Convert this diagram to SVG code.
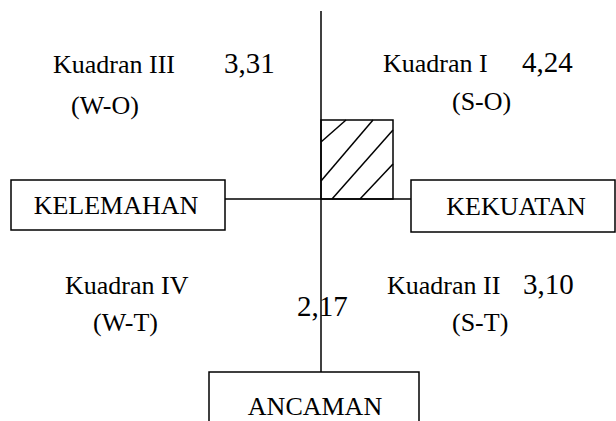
<svg xmlns="http://www.w3.org/2000/svg" width="616" height="421" viewBox="0 0 616 421" font-family="'Liberation Serif', 'Times New Roman', 'DejaVu Serif', serif">
  <style>
    .box { fill: #ffffff; stroke: #000000; stroke-width: 1.5; }
    .axis { stroke: #000000; stroke-width: 1.5; fill: none; }
    .hatch { stroke: #000000; stroke-width: 1.5; fill: none; }
    text { font-family: 'Liberation Serif', 'Times New Roman', 'DejaVu Serif', serif; fill: #000000; }
    .lbl { font-size: 26px; }
    .num { font-size: 29px; }
    .mid { text-anchor: middle; }
  </style>

  <!-- axes -->
  <g id="connectors">
    <line class="axis" x1="321" y1="11" x2="321" y2="372"/>
    <line class="axis" x1="225" y1="199" x2="411" y2="199"/>
  </g>

  <!-- hatched position square in quadrant I -->
  <g id="position">
    <rect class="hatch" x="321" y="120" width="72" height="79"/>
    <line class="hatch" x1="321" y1="142" x2="346" y2="120"/>
    <line class="hatch" x1="321" y1="181" x2="373" y2="120"/>
    <line class="hatch" x1="332" y1="199" x2="393" y2="130"/>
    <line class="hatch" x1="360" y1="199" x2="393" y2="164"/>
  </g>

  <g id="kelemahan">
    <rect class="box" x="11" y="180" width="214" height="50"/>
    <text class="lbl mid" x="116" y="214">KELEMAHAN</text>
  </g>

  <g id="kekuatan">
    <rect class="box" x="411" y="180" width="204" height="52"/>
    <text class="lbl mid" x="516" y="215">KEKUATAN</text>
  </g>

  <g id="ancaman">
    <path class="box" d="M209,425 V372 H419 V425"/>
    <text class="lbl mid" x="315" y="415">ANCAMAN</text>
  </g>

  <g id="kuadran-3">
    <text class="lbl" x="53" y="73">Kuadran III</text>
    <text class="lbl" x="71" y="114">(W-O)</text>
    <text class="num" x="224" y="73">3,31</text>
  </g>

  <g id="kuadran-1">
    <text class="lbl" x="383" y="72">Kuadran I</text>
    <text class="lbl" x="452" y="110">(S-O)</text>
    <text class="num" x="522" y="72">4,24</text>
  </g>

  <g id="kuadran-4">
    <text class="lbl" x="65" y="294">Kuadran IV</text>
    <text class="lbl" x="93" y="331">(W-T)</text>
    <text class="num" x="297" y="316">2,17</text>
  </g>

  <g id="kuadran-2">
    <text class="lbl" x="387" y="294">Kuadran II</text>
    <text class="lbl" x="452" y="331">(S-T)</text>
    <text class="num" x="523" y="294">3,10</text>
  </g>
</svg>
